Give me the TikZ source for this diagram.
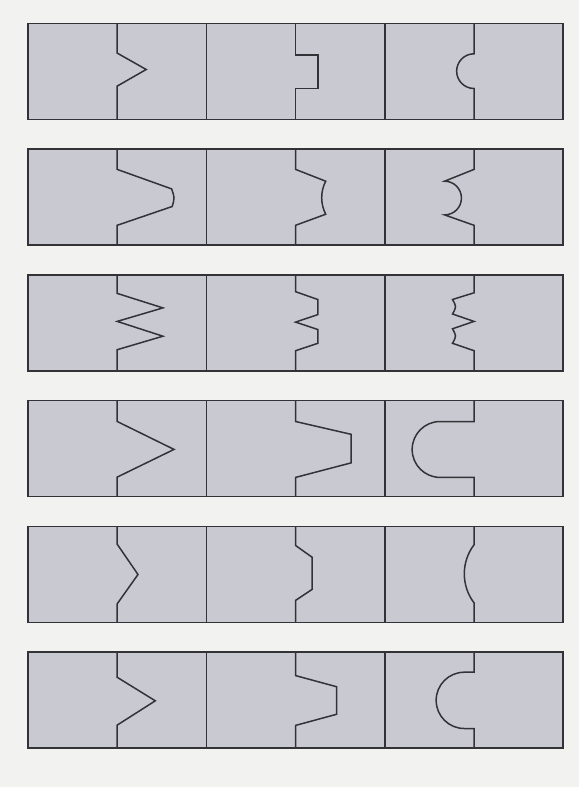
\documentclass[tikz,border=0pt]{standalone}
\usepackage{xcolor}
\usepackage{tikz}

\definecolor{paper}{RGB}{242,242,240}
\definecolor{cardgray}{RGB}{201,201,209}
\definecolor{inkline}{RGB}{50,50,55}

\begin{document}
\begin{tikzpicture}[
  x=1pt, y=-1pt,
  strip/.style={draw=inkline, fill=cardgray, line width=1.6pt},
  cut/.style={draw=inkline, line width=1.5pt},
  cellA/.style={xshift=117.2pt},
  cellB/.style={xshift=295.6pt},
  cellC/.style={xshift=474.0pt}
]
\fill[paper] (0,0) rectangle (579,787);
\useasboundingbox (0,0) rectangle (579,787);

% six strips, three cards in each
\foreach \ytop in {23.5,149.2,274.9,400.6,526.3,652.0} {
  \draw[strip] (28,\ytop) rectangle ++(535.2,96);
  \draw[cut] (206.4,\ytop) -- ++(0,96);
  \draw[cut] (384.8,\ytop) -- ++(0,96);
}

% row 1
\begin{scope}[shift={(0,23.5)}]
\draw[cut, cellA] (0,0) -- (0,29.6) -- (29,46) -- (0,62.6) -- (0,96);
\draw[cut, cellB] (0,0) -- (0,31.3) -- (22.5,31.3) -- (22.5,65) -- (0,65) -- (0,96);
\draw[cut, cellC] (0,0) -- (0,30.3) arc(270:90:17.35) -- (0,96);
\end{scope}

% row 2
\begin{scope}[shift={(0,149.2)}]
\draw[cut, cellA] (0,0) -- (0,20.2) -- (54.4,39.7) .. controls (57.5,48.5) .. (55,57.3) -- (0,76.1) -- (0,96);
\draw[cut, cellB] (0,0) -- (0,20.2) -- (30.1,32) arc(207.3:152.7:36) -- (0,76.1) -- (0,96);
\draw[cut, cellC] (0,0) -- (0,20.2) -- (-29.4,32) arc(270:450:16.85) -- (0,76.1) -- (0,96);
\end{scope}

% row 3
\begin{scope}[shift={(0,274.9)}]
\draw[cut, cellA] (0,0) -- (0,18.5) -- (45.7,33) -- (0,46.5) -- (45.7,61.3) -- (0,74.8) -- (0,96);
\draw[cut, cellB] (0,0) -- (0,16.8) -- (22.2,24.6) -- (22.2,39.7) -- (0,47.2) -- (22.2,54.6) -- (22.2,68.4) -- (0,75.8) -- (0,96);
\draw[cut, cellC] (0,0) -- (0,17.9) -- (-21.5,24.6) .. controls (-17.5,31.9) .. (-21.5,39.1) -- (0,46.5)
  -- (-21.5,53.9) .. controls (-17.5,61.2) .. (-21.5,68.4) -- (0,75.8) -- (0,96);
\end{scope}

% row 4
\begin{scope}[shift={(0,400.6)}]
\draw[cut, cellA] (0,0) -- (0,20.9) -- (56.8,48.8) -- (0,76.5) -- (0,96);
\draw[cut, cellB] (0,0) -- (0,20.9) -- (55.4,33.7) -- (55.4,62.3) -- (0,76.8) -- (0,96);
\draw[cut, cellC] (0,0) -- (0,20.9) -- (-33.9,20.9) arc(270:90:27.95) -- (0,76.8) -- (0,96);
\end{scope}

% row 5
\begin{scope}[shift={(0,526.3)}]
\draw[cut, cellA] (0,0) -- (0,17.9) -- (20.8,48.2) -- (0,77.5) -- (0,96);
\draw[cut, cellB] (0,0) -- (0,19.2) -- (16.6,31) -- (16.6,63) -- (0,74.1) -- (0,96);
\draw[cut, cellC] (0,0) -- (0,18.5) arc(217:143:48.2) -- (0,96);
\end{scope}

% row 6
\begin{scope}[shift={(0,652.0)}]
\draw[cut, cellA] (0,0) -- (0,25.3) -- (38.1,48.8) -- (0,73.1) -- (0,96);
\draw[cut, cellB] (0,0) -- (0,23.6) -- (40.9,34.7) -- (40.9,62.3) -- (0,73.4) -- (0,96);
\draw[cut, cellC] (0,0) -- (0,20.2) -- (-9.7,20.2) arc(270:90:28.15) -- (0,76.5) -- (0,96);
\end{scope}
\end{tikzpicture}
\end{document}
